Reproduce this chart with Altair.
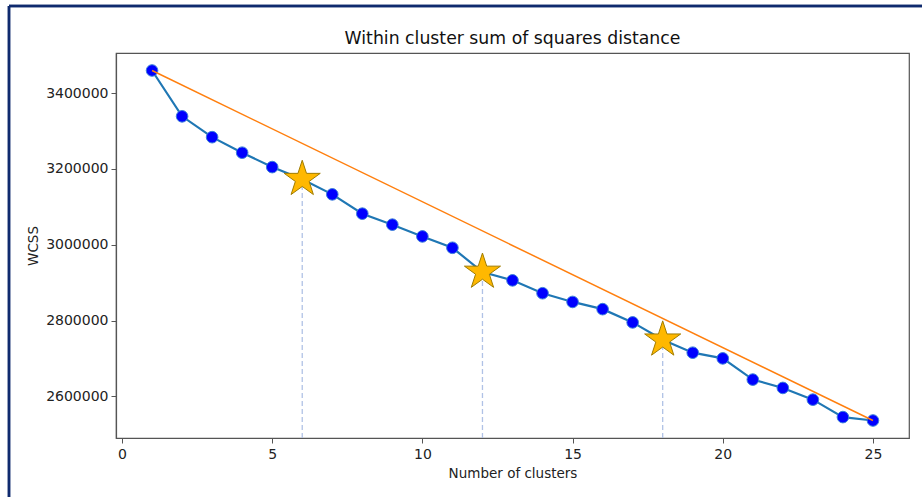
import altair as alt
import pandas as pd

# Elbow-method results: WCSS for each number of clusters
k = list(range(1, 26))
wcss = [3460000, 3339000, 3284000, 3243000, 3205000, 3173000, 3133000,
        3082000, 3053000, 3022000, 2992000, 2928000, 2906000, 2872000,
        2849000, 2830000, 2795000, 2749000, 2715000, 2700000, 2644000,
        2622000, 2591000, 2545000, 2536000]
elbows = [6, 12, 18]
x_ticks = [0, 5, 10, 15, 20, 25]
y_ticks = [2600000, 2800000, 3000000, 3200000, 3400000]
title_text = ["Within cluster sum of squares distance"]

FONT = "DejaVu Sans"
W, H = 793, 385

# five-pointed star in the unit box [-1, 1]
STAR = ("M0,-1L0.2245,-0.309L0.951,-0.309L0.363,0.118L0.588,0.809L0,0.382"
        "L-0.588,0.809L-0.363,0.118L-0.951,-0.309L-0.2245,-0.309Z")

# matplotlib-like 5% margins around the data
x_span = max(k) - min(k)
x_dom = [min(k) - 0.05 * x_span, max(k) + 0.05 * x_span]
y_span = max(wcss) - min(wcss)
y_lo = min(wcss) - 0.05 * y_span
y_hi = max(wcss) + 0.05 * y_span

df = pd.DataFrame({"k": k, "wcss": wcss})
df_el = pd.DataFrame({
    "k": elbows,
    "wcss": [wcss[k.index(e)] for e in elbows],
    "base": [y_lo] * len(elbows),
})
df_chord = pd.DataFrame({"k": [k[0], k[-1]], "wcss": [wcss[0], wcss[-1]]})
df_title = pd.DataFrame({"t": title_text})

x_enc = alt.X("k:Q", scale=alt.Scale(domain=x_dom, nice=False, zero=False),
              axis=alt.Axis(values=x_ticks, title="Number of clusters", format="d",
                            orient="bottom"))
y_enc = alt.Y("wcss:Q", scale=alt.Scale(domain=[y_lo, y_hi], nice=False, zero=False),
              axis=alt.Axis(values=y_ticks, title="WCSS", format="d", orient="left"))

vlines = alt.Chart(df_el).mark_rule(
    color="#b0c2e6", strokeWidth=1.3, strokeDash=[5, 3]
).encode(x=x_enc, y=alt.Y("base:Q"), y2="wcss:Q")

line = alt.Chart(df).mark_line(color="#1f77b4", strokeWidth=2.2).encode(x=x_enc, y=y_enc)

dots = alt.Chart(df).mark_point(
    shape="circle", size=135, filled=True, fill="#0000ff",
    stroke="#3b7fd9", strokeWidth=1, opacity=1
).encode(x=x_enc, y=y_enc)

chord = alt.Chart(df_chord).mark_line(color="#ff7f0e", strokeWidth=1.5).encode(x=x_enc, y=y_enc)

stars = alt.Chart(df_el).mark_point(
    shape=STAR, size=1440, filled=True, fill="#ffb800",
    stroke="#a07c00", strokeWidth=1, opacity=1
).encode(x=x_enc, y=y_enc)

# chart title, centred over the plot area
title = alt.Chart(df_title).mark_text(
    font=FONT, fontSize=17.3, color="#111111", align="center", baseline="middle"
).encode(text="t:N", x=alt.value(W / 2), y=alt.value(-14))

# navy frame around the figure (top and left edges)
frame_top = alt.Chart(df_chord).mark_rule(color="#0f2a6e", strokeWidth=2.5).encode(
    x=alt.value(-107), x2=alt.value(806), y=alt.value(-47))
frame_left = alt.Chart(df_chord).mark_rule(color="#0f2a6e", strokeWidth=2.5).encode(
    x=alt.value(-107), y=alt.value(-47), y2=alt.value(444))

chart = alt.layer(vlines, line, dots, chord, stars, title, frame_top, frame_left).properties(
    width=W, height=H,
    autosize=alt.AutoSizeParams(type="none"),
    padding={"left": 116, "top": 53, "right": 13, "bottom": 59},
).configure_view(
    stroke="#555555", strokeWidth=1.2
).configure_axis(
    grid=False, domainColor="#555555", domainWidth=1.2, tickColor="#555555",
    tickSize=5, tickWidth=1, labelFont=FONT, labelFontSize=14, labelColor="#222222",
    labelPadding=3, titleFont=FONT, titleFontSize=13.5, titleFontWeight="normal",
    titleColor="#222222"
).configure_axisY(titlePadding=5).configure_axisX(labelPadding=4, titlePadding=5)

chart.save("out.html", embed_options={"renderer": "svg", "actions": False})
